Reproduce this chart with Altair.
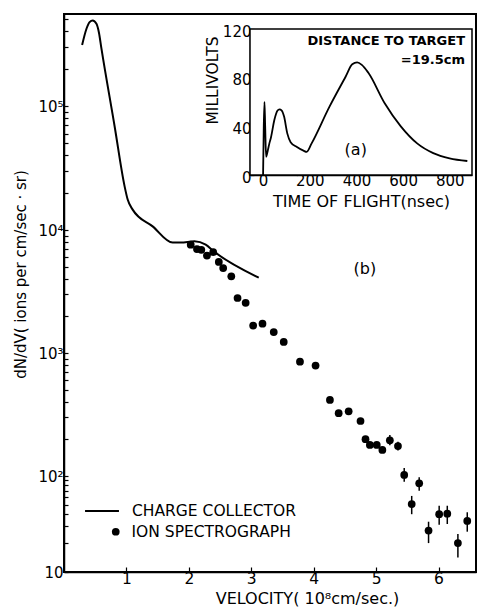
import altair as alt
import pandas as pd

FONT = "DejaVu Sans"

# ---- (b) charge collector curve (velocity in 1e8 cm/s, dN/dV) ----
cc_velocity = [0.29, 0.36, 0.41, 0.46, 0.52, 0.56, 0.60, 0.81, 0.97, 1.02, 1.10,
               1.42, 1.74, 1.87, 2.09, 2.27, 2.40, 3.12]
cc_dndv = [3.1e5, 4.2e5, 4.75e5, 4.9e5, 4.6e5, 3.9e5, 2.9e5, 6.9e4, 2.26e4, 1.76e4,
           1.46e4, 1.07e4, 7.9e3, 7.9e3, 8.1e3, 7.6e3, 6.7e3, 4.1e3]

# ---- (b) ion spectrograph points ----
is_velocity = [2.03, 2.13, 2.20, 2.29, 2.39, 2.48, 2.55, 2.68, 2.78, 2.91, 3.03, 3.18,
               3.36, 3.52, 3.78, 4.03, 4.26, 4.40, 4.56, 4.75, 4.83, 4.90, 5.01, 5.10,
               5.22, 5.35, 5.45, 5.57, 5.69, 5.84, 6.01, 6.14, 6.31, 6.46]
is_dndv = [7600, 7000, 6900, 6200, 6600, 5500, 4900, 4200, 2800, 2560, 1670, 1730,
           1480, 1230, 850, 790, 415, 324, 336, 280, 199, 179, 179, 163,
           195, 175, 102, 51, 84, 27, 40, 40.5, 20, 34]

# ---- error bars on the high-velocity points ----
eb_velocity = [5.22, 5.35, 5.45, 5.57, 5.69, 5.84, 6.01, 6.14, 6.31, 6.46]
eb_low = [178, 161, 87, 40, 70, 20, 31, 31.6, 14.2, 26.3]
eb_high = [215, 190, 116, 62, 97, 33.4, 49, 49, 24.9, 41.9]

# ---- (a) inset: signal vs time of flight ----
tof_ns = [0, 3, 6, 9, 13, 20, 27, 34, 48, 62, 70, 80, 90, 104, 118, 145, 173, 187,
          208, 284, 354, 382, 403, 423, 451, 521, 590, 660, 729, 799, 875]
tof_mv = [0, 40, 60, 40, 15, 20, 26, 31, 45, 53, 54, 53, 48, 34, 27, 23, 20, 19,
          26, 56, 81, 91, 92.5, 90.5, 84, 59, 40, 26, 18, 13.7, 11.5]

# axis ticks / labels
x_ticks = [1, 2, 3, 4, 5, 6]
y_major = [10, 100, 1000, 10000, 100000]
y_major_labels = ["10", "10²", "10³", "10⁴", "10⁵"]
y_minor = [k * 10 ** d for d in range(1, 6) for k in range(2, 10) if k * 10 ** d < 5.5e5]
inset_x_ticks = [0, 200, 400, 600, 800]
inset_y_ticks = [0, 20, 40, 60, 80, 100, 120]
inset_ns_extent = [-56, 895]
inset_mv_extent = [0, 120]

# ---------------- layout ----------------
W, H = 412, 558
# the original's log axis is not evenly spaced between decades; follow it piecewise
y_dom = [10, 100, 1000, 10000, 100000, 5.52e5]
y_rng = [558, 462, 339, 216, 92, 0]
xscale = alt.Scale(domain=[0, 6.6], nice=False, zero=False)
yscale = alt.Scale(type="log", domain=y_dom, range=y_rng, nice=False)

label_expr = " : ".join(
    f"datum.value == {v} ? '{t}'" for v, t in zip(y_major, y_major_labels)
) + " : ''"

x_axis = alt.Axis(values=x_ticks, format="d", title="VELOCITY( 10⁸cm/sec.)",
                  labelFontSize=15.5, titleFontSize=16, tickSize={"expr": "-5"},
                  labelPadding=4, titleX=243, titleY=31, titleAlign="center",
                  titleBaseline="alphabetic", grid=False)
y_axis = alt.Axis(values=y_major + y_minor, labelExpr=label_expr,
                  title="dN/dV( ions per cm/sec · sr)", titleFontSize=15,
                  titleX=-44, titleY=260, titleAlign="center", titleBaseline="middle",
                  labelFontSize=15, tickSize={"expr": "-4"}, labelPadding=5, grid=False)

cc_df = pd.DataFrame({"v": cc_velocity, "n": cc_dndv, "series": "CHARGE COLLECTOR"})
is_df = pd.DataFrame({"v": is_velocity, "n": is_dndv, "series": "ION SPECTROGRAPH"})
eb_df = pd.DataFrame({"v": eb_velocity, "n": eb_low, "n2": eb_high})

line = alt.Chart(cc_df).mark_line(color="black", strokeWidth=2, interpolate="monotone").encode(
    x=alt.X("v:Q", scale=xscale, axis=x_axis),
    y=alt.Y("n:Q", scale=yscale, axis=y_axis),
    color=alt.Color("series:N", scale=alt.Scale(range=["black"]),
                    legend=alt.Legend(orient="none", legendX=20, legendY=479, title=None,
                                      symbolType="stroke", symbolSize=1150,
                                      symbolStrokeWidth=2, symbolStrokeColor="black",
                                      labelFont=FONT, labelFontSize=15.5, labelColor="black",
                                      labelOffset=12, labelLimit=400, padding=0)),
)

ebars = alt.Chart(eb_df).mark_rule(color="black", strokeWidth=1.5).encode(
    x=alt.X("v:Q", scale=xscale),
    y=alt.Y("n:Q", scale=yscale),
    y2="n2:Q",
)

points = alt.Chart(is_df).mark_point(filled=True, color="black", size=60, opacity=1).encode(
    x=alt.X("v:Q", scale=xscale),
    y=alt.Y("n:Q", scale=yscale),
    shape=alt.Shape("series:N", scale=alt.Scale(range=["circle"]),
                    legend=alt.Legend(orient="none", legendX=44, legendY=510, title=None,
                                      symbolSize=60, symbolFillColor="black",
                                      symbolStrokeColor="black",
                                      labelFont=FONT, labelFontSize=15.5, labelColor="black",
                                      labelOffset=8, labelLimit=400, padding=0)),
)

b_label = alt.Chart(pd.DataFrame({"v": [4.82], "n": [4800], "t": ["(b)"]})).mark_text(
    font=FONT, fontSize=16, color="black").encode(
    x=alt.X("v:Q", scale=xscale), y=alt.Y("n:Q", scale=yscale), text="t:N")

main = alt.layer(line, ebars, points, b_label)

# ---------------- inset ----------------
ix = alt.Scale(domain=inset_ns_extent, range=[186, 408], nice=False, zero=False)
iy = alt.Scale(domain=inset_mv_extent, range=[161, 15], nice=False, zero=False)

box_df = pd.DataFrame({"t": [inset_ns_extent[0]], "t2": [inset_ns_extent[1]],
                       "mv": [inset_mv_extent[0]], "mv2": [inset_mv_extent[1]]})
box = alt.Chart(box_df).mark_rect(fill="white", stroke="black", strokeWidth=1.5).encode(
    x=alt.X("t:Q", scale=ix,
            axis=alt.Axis(orient="bottom", offset=-(H - 161), values=inset_x_ticks,
                          title="TIME OF FLIGHT(nsec)", titleFontSize=16,
                          labelFontSize=15, tickSize={"expr": "-4"}, labelPadding=2,
                          titleY=31, titleBaseline="alphabetic", titleAlign="center",
                          grid=False)),
    x2="t2:Q",
    y=alt.Y("mv:Q", scale=iy,
            axis=alt.Axis(orient="left", offset=-186, values=inset_y_ticks,
                          labelExpr="datum.value % 40 == 0 ? datum.label : ''",
                          title="MILLIVOLTS", titleFontSize=15.5, labelFontSize=15,
                          tickSize={"expr": "-4"}, labelPadding=3, titlePadding=2,
                          titleY=66, titleAlign="center",
                          labelBaseline="top", labelOffset=-5, grid=False)),
    y2="mv2:Q",
)

tof_df = pd.DataFrame({"t": tof_ns, "mv": tof_mv})
tof_line = alt.Chart(tof_df).mark_line(color="black", strokeWidth=1.8,
                                       interpolate="monotone").encode(
    x=alt.X("t:Q", scale=ix), y=alt.Y("mv:Q", scale=iy))

inset_text_df = pd.DataFrame({"t": [865, 865], "mv": [110, 94.5],
                              "s": ["DISTANCE TO TARGET", "=19.5cm"]})
inset_text = alt.Chart(inset_text_df).mark_text(
    font=FONT, fontSize=13, fontWeight="bold", align="right", color="black").encode(
    x=alt.X("t:Q", scale=ix), y=alt.Y("mv:Q", scale=iy), text="s:N")

a_label = alt.Chart(pd.DataFrame({"t": [397], "mv": [20.5], "s": ["(a)"]})).mark_text(
    font=FONT, fontSize=16, color="black").encode(
    x=alt.X("t:Q", scale=ix), y=alt.Y("mv:Q", scale=iy), text="s:N")

inset = alt.layer(box, tof_line, inset_text, a_label)

chart = alt.layer(main, inset).resolve_scale(
    x="independent", y="independent"
).properties(
    width=W, height=H, autosize="none",
    padding={"left": 56, "top": 6, "right": 1, "bottom": 36},
).configure_axis(
    labelFont=FONT, titleFont=FONT, labelColor="black", titleColor="black",
    domainColor="black", tickColor="black", domainWidth=1.5, tickWidth=1.2,
    titleFontWeight="normal",
).configure_view(stroke="black", strokeWidth=2)

chart.save("out.html", embed_options={"renderer": "svg", "actions": False})
